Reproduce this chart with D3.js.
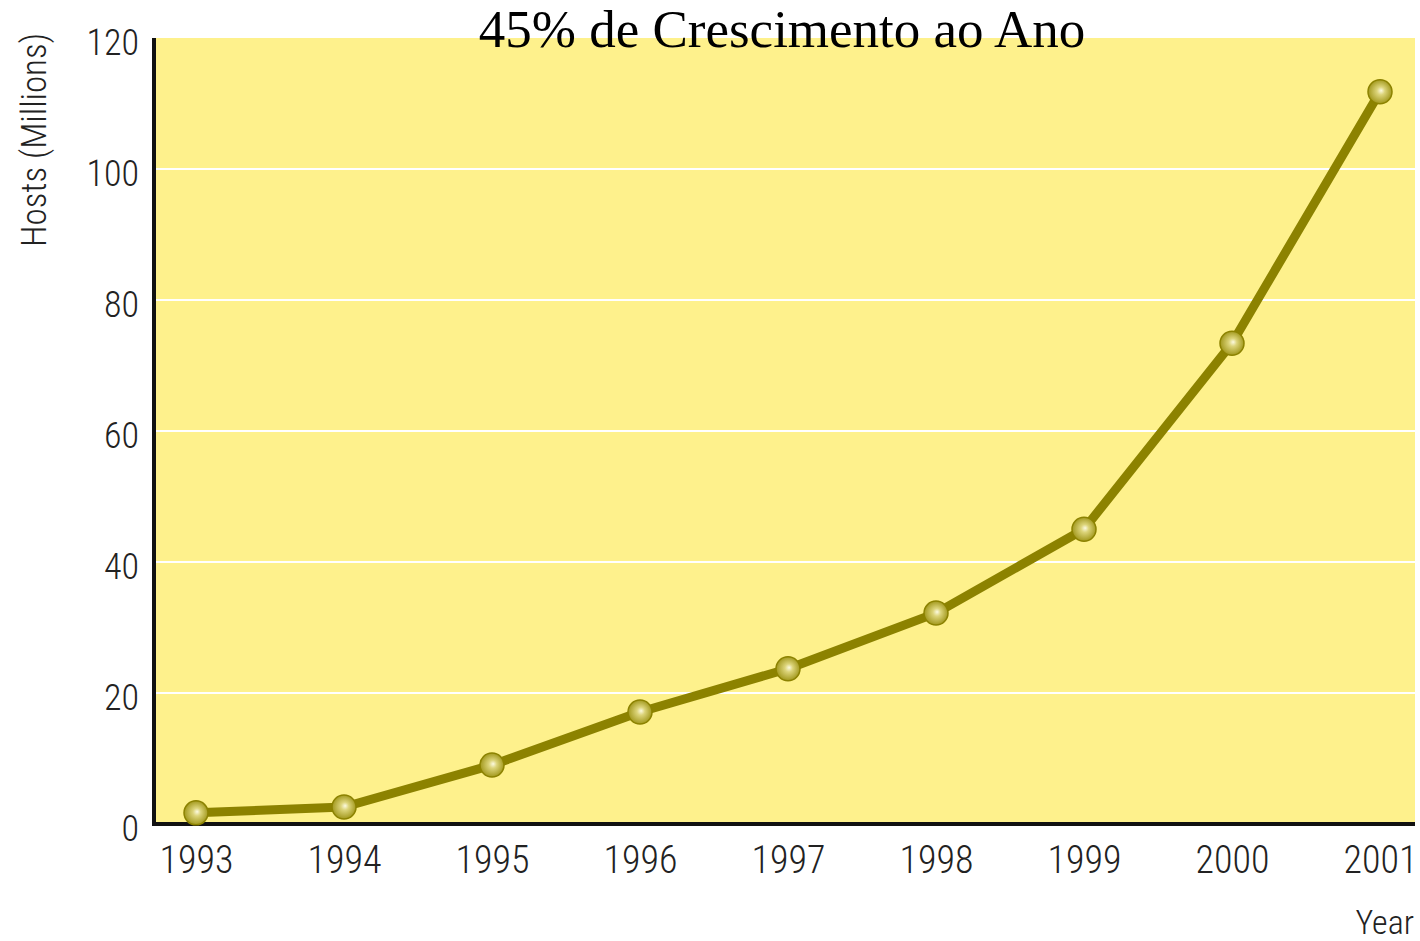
<!DOCTYPE html>
<html><head><meta charset="utf-8">
<script src="https://cdn.jsdelivr.net/npm/d3@7"></script>
<style>html,body{margin:0;padding:0;background:#fff;}svg{display:block;}</style>
</head><body>
<svg id="c" width="1420" height="941"></svg>
<script>
const years = [1993, 1994, 1995, 1996, 1997, 1998, 1999, 2000, 2001];
const hosts = [1.7, 2.6, 9.0, 17.1, 23.7, 32.2, 45.0, 73.4, 111.8];
const yTicks = [0, 20, 40, 60, 80, 100, 120];
const title = "45% de Crescimento ao Ano";
const yTitle = "Hosts (Millions)";
const xTitle = "Year";

(function () {
const svg = d3.select("#c");
const pL = 155, pR = 1415, pT = 38, pB = 824;
const x = d3.scaleLinear().domain([1993, 2001]).range([196, 1380]);
const y = d3.scaleLinear().domain([0, 120]).range([pB, pT]);

const defs = svg.append("defs");
const g = defs.append("radialGradient").attr("id", "ball").attr("cx", "50%").attr("cy", "50%").attr("r", "55%").attr("fx", "55%").attr("fy", "45%");
g.append("stop").attr("offset", "0%").attr("stop-color", "#fcfae0");
g.append("stop").attr("offset", "30%").attr("stop-color", "#dcd47a");
g.append("stop").attr("offset", "100%").attr("stop-color", "#9a9010");

svg.append("rect").attr("x", pL).attr("y", pT).attr("width", pR - pL).attr("height", pB - pT).attr("fill", "#fef18c");

svg.append("g").selectAll("line").data(yTicks.filter(d => d > 0 && d < 120)).join("line")
  .attr("x1", pL).attr("x2", pR).attr("y1", d => y(d)).attr("y2", d => y(d))
  .attr("stroke", "#ffffff").attr("stroke-width", 2);

const fontTick = "'Roboto Condensed', 'Liberation Sans Narrow', 'Liberation Sans', sans-serif";
const yAxis = d3.axisLeft(y).tickValues(yTicks).tickSize(0).tickPadding(16);
const ya = svg.append("g").attr("transform", `translate(${pL},0)`).call(yAxis);
ya.select(".domain").remove();
ya.selectAll("text").attr("font-family", fontTick).attr("font-weight", 300).attr("font-size", 36).attr("fill", "#222").attr("dy", "0.45em");

const xAxis = d3.axisBottom(x).tickValues(years).tickFormat(d3.format("d")).tickSize(0).tickPadding(22);
const xa = svg.append("g").attr("transform", `translate(0,${pB})`).call(xAxis);
xa.select(".domain").remove();
xa.selectAll("text").attr("font-family", fontTick).attr("font-weight", 300).attr("font-size", 38).attr("fill", "#222");

svg.append("line").attr("x1", pL - 1).attr("x2", pL - 1).attr("y1", pT).attr("y2", pB + 2).attr("stroke", "#111").attr("stroke-width", 4);
svg.append("line").attr("x1", pL - 3).attr("x2", pR).attr("y1", pB).attr("y2", pB).attr("stroke", "#111").attr("stroke-width", 4);

const line = d3.line().x((d, i) => x(years[i])).y(d => y(d));
svg.append("path").datum(hosts).attr("d", line).attr("fill", "none").attr("stroke", "#8c8200").attr("stroke-width", 9).attr("stroke-linejoin", "round");

svg.append("g").selectAll("circle").data(hosts).join("circle")
  .attr("cx", (d, i) => x(years[i])).attr("cy", d => y(d)).attr("r", 12)
  .attr("fill", "url(#ball)").attr("stroke", "#8c8200").attr("stroke-width", 1.5);

svg.append("text").attr("x", 782).attr("y", 47).attr("text-anchor", "middle")
  .attr("font-family", "'Liberation Serif', 'Times New Roman', serif").attr("font-size", 53).attr("fill", "#000").text(title);

svg.append("text").attr("transform", "translate(46,140) rotate(-90)").attr("text-anchor", "middle")
  .attr("font-family", fontTick).attr("font-weight", 300).attr("font-size", 35).attr("fill", "#222").text(yTitle);

svg.append("text").attr("x", 1414).attr("y", 934).attr("text-anchor", "end")
  .attr("font-family", fontTick).attr("font-weight", 300).attr("font-size", 34).attr("fill", "#222").text(xTitle);
})();
</script>
</body></html>
